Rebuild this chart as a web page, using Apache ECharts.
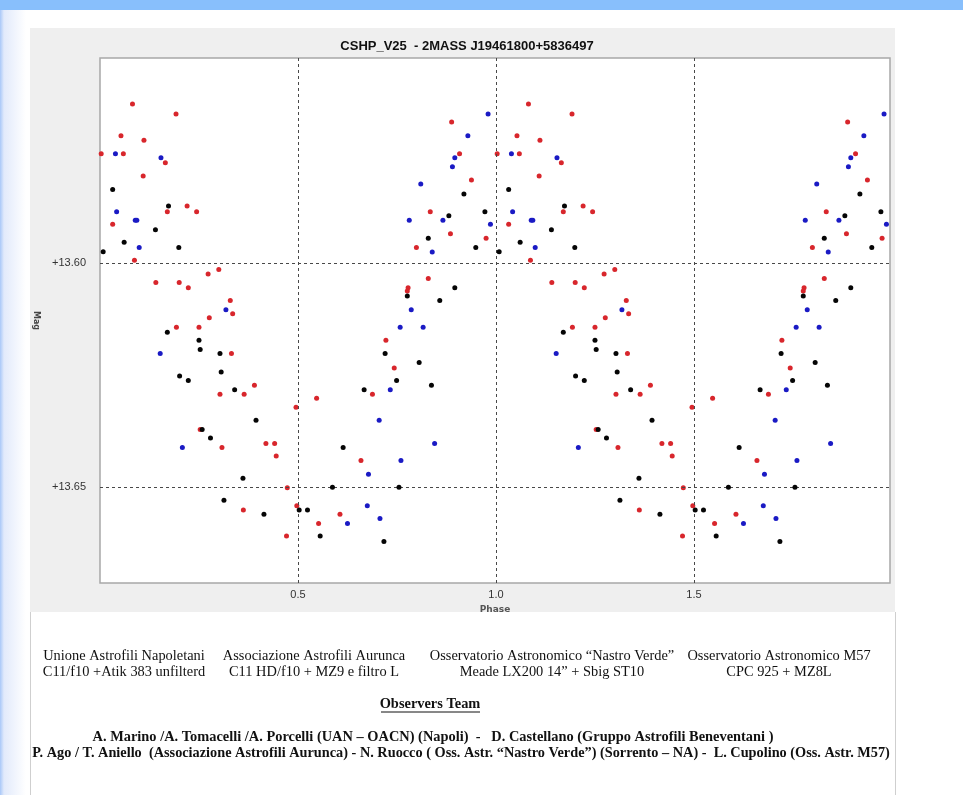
<!DOCTYPE html>
<html>
<head>
<meta charset="utf-8">
<script src="https://cdn.jsdelivr.net/npm/echarts@6/dist/echarts.min.js"></script>
<style>
  html, body { margin: 0; padding: 0; background: #ffffff; }
  body { width: 963px; height: 795px; position: relative; overflow: hidden; }
  #band { position: absolute; left: 0; top: 0; width: 963px; height: 10px; background: #88bffc; }
  #strip { position: absolute; left: 0; top: 10px; width: 26px; height: 785px;
           background: linear-gradient(to right, #a9c8f8 0px, #e2eafb 4px, #ffffff 26px); }
  #panel { position: absolute; left: 30px; top: 28px; width: 865px; height: 584px; background: #efefef; }
  #box { position: absolute; left: 30px; top: 612px; width: 864px; height: 183px; background: #ffffff;
         border-left: 1px solid #cfcfcf; border-right: 1px solid #cfcfcf; }
  #chart { position: absolute; left: 0; top: 0; width: 963px; height: 795px; }
</style>
</head>
<body>
<div id="band"></div>
<div id="strip"></div>
<div id="panel"></div>
<div id="box"></div>
<div id="chart"></div>
<script>
// ---- data (one cycle: [phase, mag]); the plot shows it twice (phase and phase+1) ----
const redObs = [[0.082,13.5644],[0.192,13.5666],[0.053,13.5715],[0.111,13.5725],[0.003,13.5755],[0.059,13.5755],[0.165,13.5775],[0.109,13.5805],[0.220,13.5872],[0.170,13.5885],[0.244,13.5885],[0.032,13.5913],[0.087,13.5993],[0.300,13.6014],[0.273,13.6024],[0.141,13.6043],[0.200,13.6043],[0.223,13.6055],[0.329,13.6083],[0.335,13.6113],[0.276,13.6122],[0.888,13.5684],[0.908,13.5755],[0.938,13.5814],[0.834,13.5885],[0.885,13.5934],[0.975,13.5944],[0.799,13.5965],[0.829,13.6034],[0.778,13.6055],[0.776,13.6062],[0.193,13.6143],[0.250,13.6143],[0.722,13.6172],[0.332,13.6202],[0.743,13.6234],[0.390,13.6273],[0.303,13.6293],[0.364,13.6293],[0.688,13.6293],[0.547,13.6302],[0.495,13.6322],[0.253,13.6372],[0.419,13.6403],[0.441,13.6403],[0.445,13.6431],[0.308,13.6412],[0.659,13.6441],[0.473,13.6502],[0.362,13.6552],[0.497,13.6542],[0.606,13.6561],[0.552,13.6582],[0.471,13.6610]];
const blueObs = [[0.039,13.5755],[0.154,13.5764],[0.042,13.5885],[0.089,13.5904],[0.093,13.5904],[0.099,13.5965],[0.318,13.6104],[0.980,13.5666],[0.929,13.5715],[0.896,13.5764],[0.890,13.5784],[0.810,13.5823],[0.781,13.5904],[0.866,13.5904],[0.986,13.5913],[0.839,13.5975],[0.786,13.6104],[0.758,13.6143],[0.816,13.6143],[0.152,13.6202],[0.733,13.6283],[0.705,13.6351],[0.208,13.6412],[0.845,13.6403],[0.760,13.6441],[0.678,13.6472],[0.675,13.6542],[0.707,13.6571],[0.625,13.6582]];
const blackObs = [[0.032,13.5835],[0.173,13.5872],[0.140,13.5925],[0.061,13.5953],[0.008,13.5974],[0.199,13.5965],[0.919,13.5845],[0.881,13.5894],[0.972,13.5885],[0.829,13.5944],[0.949,13.5965],[0.896,13.6055],[0.858,13.6083],[0.776,13.6073],[0.170,13.6154],[0.250,13.6172],[0.253,13.6193],[0.303,13.6202],[0.720,13.6202],[0.806,13.6222],[0.306,13.6243],[0.201,13.6252],[0.223,13.6262],[0.749,13.6262],[0.837,13.6273],[0.340,13.6283],[0.667,13.6283],[0.394,13.6351],[0.258,13.6372],[0.279,13.6391],[0.614,13.6412],[0.361,13.6481],[0.587,13.6501],[0.755,13.6501],[0.313,13.6530],[0.503,13.6552],[0.524,13.6552],[0.414,13.6561],[0.556,13.6610],[0.717,13.6622]];

const xTicks = [0.5, 1.0, 1.5];
const yTicks = [13.60, 13.65];

const chartTitle = 'CSHP_V25  - 2MASS J19461800+5836497';
const xName = 'Phase';
const yName = 'Mag';

const stations = [
  ['Unione Astrofili Napoletani', 'C11/f10 +Atik 383 unfilterd'],
  ['Associazione Astrofili Aurunca', 'C11 HD/f10 + MZ9 e filtro L'],
  ['Osservatorio Astronomico \u201cNastro Verde\u201d', 'Meade LX200 14\u201d + Sbig ST10'],
  ['Osservatorio Astronomico M57', 'CPC 925 + MZ8L']
];
const teamTitle = 'Observers Team';
const teamLines = [
  'A. Marino /A. Tomacelli /A. Porcelli (UAN \u2013 OACN) (Napoli)  -   D. Castellano (Gruppo Astrofili Beneventani )',
  'P. Ago / T. Aniello  (Associazione Astrofili Aurunca) - N. Ruocco ( Oss. Astr. \u201cNastro Verde\u201d) (Sorrento \u2013 NA) -  L. Cupolino (Oss. Astr. M57)'
];

// two cycles of the phase diagram
function twoCycles(arr) {
  return arr.map(p => [p[0], p[1]]).concat(arr.map(p => [p[0] + 1, p[1]]));
}

const chart = echarts.init(document.getElementById('chart'), null, { renderer: 'canvas' });

const serif = '"Liberation Serif", "Times New Roman", serif';
function txt(x, y, text, bold, sx) {
  return { type: 'text', x: x, y: y, scaleX: sx, originX: 0, originY: 0,
    style: { text: text, font: (bold ? 'bold ' : '') + '15px ' + serif, textAlign: 'center', textVerticalAlign: 'middle', fill: '#111' } };
}
const stationX = [124, 314, 552, 779];
const graphics = [];
stations.forEach((s, i) => {
  graphics.push(txt(stationX[i], 656, s[0], false, 0.96));
  graphics.push(txt(stationX[i], 672, s[1], false, 0.96));
});
graphics.push(txt(430, 704, teamTitle, true, 0.96));
graphics.push({ type: 'line', shape: { x1: 381, y1: 712, x2: 480, y2: 712 }, style: { stroke: '#111', lineWidth: 1 } });
graphics.push(txt(433, 737, teamLines[0], true, 0.96));
graphics.push(txt(461, 753, teamLines[1], true, 0.953));

const refLineStyle = { color: '#484848', type: [3, 3], width: 1 };
const pointStyle = c => ({ color: c, opacity: 1 });

chart.setOption({
  animation: false,
  backgroundColor: 'transparent',
  title: {
    text: chartTitle, left: 462, top: 35, textAlign: 'center',
    textStyle: { fontFamily: '"Liberation Sans", Arial', fontWeight: 'bold', fontSize: 13, color: '#111' }
  },
  grid: { left: 100, top: 58, width: 790, height: 525, show: true, backgroundColor: '#ffffff', borderColor: '#a8a8a8', borderWidth: 1.5 },
  xAxis: {
    type: 'value', min: 0, max: 1.995,
    name: xName, nameLocation: 'middle', nameGap: 20,
    nameTextStyle: { fontFamily: '"DejaVu Sans"', fontWeight: 'bold', fontSize: 9, color: '#555' },
    axisLine: { show: false }, axisTick: { show: false }, splitLine: { show: false },
    axisLabel: { customValues: xTicks, margin: 6, fontFamily: '"Liberation Sans", Arial', fontSize: 11, color: '#333', formatter: v => v.toFixed(1) }
  },
  yAxis: {
    type: 'value', inverse: true, min: 13.5541, max: 13.6715,
    name: yName, nameLocation: 'middle', nameGap: 60, nameRotate: -90,
    nameTextStyle: { fontFamily: '"DejaVu Sans"', fontWeight: 'bold', fontSize: 8, color: '#444' },
    axisLine: { show: false }, axisTick: { show: false }, splitLine: { show: false },
    axisLabel: { customValues: yTicks, margin: 14, fontFamily: '"Liberation Sans", Arial', fontSize: 11, color: '#333', formatter: v => '+' + v.toFixed(2) }
  },
  graphic: graphics,
  series: [
    {
      type: 'scatter', name: 'ref', data: [], silent: true,
      markLine: {
        silent: true, symbol: 'none', label: { show: false }, lineStyle: refLineStyle,
        data: xTicks.map(v => ({ xAxis: v })).concat(yTicks.map(v => ({ yAxis: v })))
      }
    },
    { type: 'scatter', name: 'red', data: twoCycles(redObs), symbol: 'circle', symbolSize: 5, itemStyle: pointStyle('#d8262c'), z: 3 },
    { type: 'scatter', name: 'blue', data: twoCycles(blueObs), symbol: 'circle', symbolSize: 5, itemStyle: pointStyle('#1a1ac4'), z: 4 },
    { type: 'scatter', name: 'black', data: twoCycles(blackObs), symbol: 'circle', symbolSize: 5, itemStyle: pointStyle('#050505'), z: 5 }
  ]
});
</script>
</body>
</html>
